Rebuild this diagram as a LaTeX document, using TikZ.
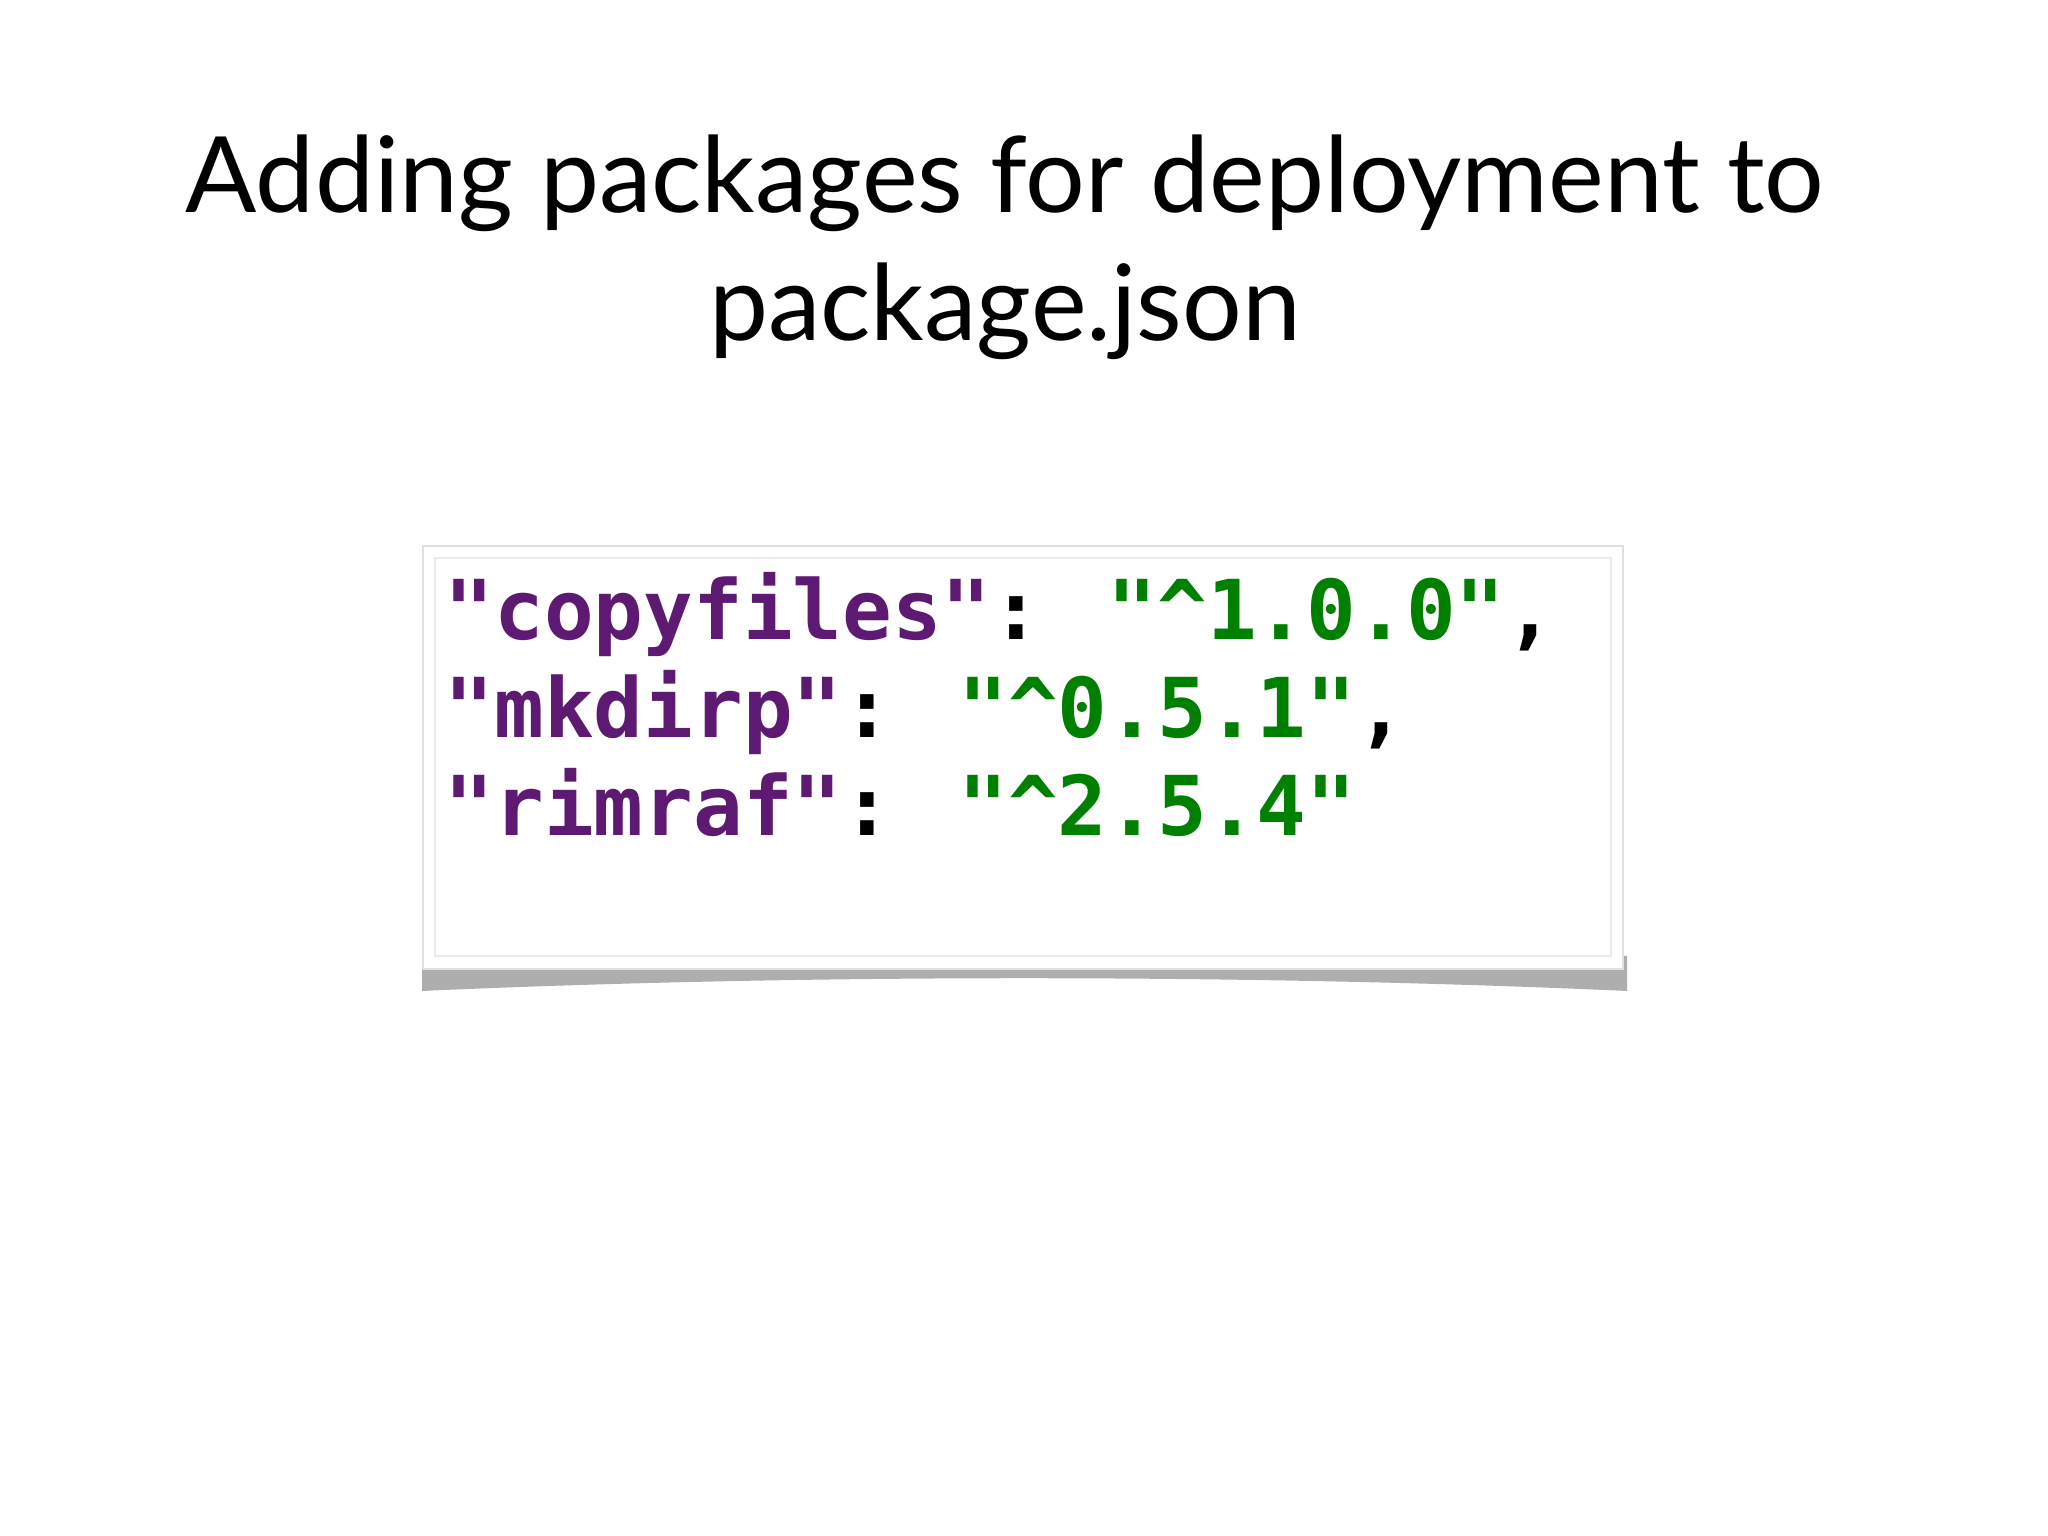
\documentclass[tikz,border=0pt]{standalone}
\usepackage{fontspec}
\setmainfont{Lato}
\newfontfamily\codefont{DejaVu Sans Mono}
\definecolor{kpurple}{HTML}{5E1A72}
\definecolor{kgreen}{HTML}{008000}
\tikzset{codeline/.style={anchor=base west,inner sep=0pt,font=\codefont\bfseries\fontsize{23.5}{28}\selectfont}}
\begin{document}
\begin{tikzpicture}[x=1cm,y=1cm]
\useasboundingbox (0,0) rectangle (20.48,15.36);
\fill[white] (0,0) rectangle (20.48,15.36);
% title
\node[font=\fontsize{30}{36}\selectfont,align=center,inner sep=0pt] (title1) at (10.05,13.53) {Adding packages for deployment to};
\node[font=\fontsize{30}{36}\selectfont,align=center,inner sep=0pt] (title2) at (10.05,12.25) {package.json};
% shadow
\fill[black!45,opacity=0.7] (4.22,5.45) .. controls (8,5.62) and (12.5,5.62) .. (16.27,5.45) -- (16.27,5.8) -- (4.22,5.8) -- cycle;
% box
\node[draw=black!12,fill=white,line width=0.6pt,minimum width=12.0cm,minimum height=4.23cm,inner sep=0pt] (box) at (10.23,7.785) {};
\draw[black!8,line width=0.6pt] (4.35,5.80) rectangle (16.11,9.78);
% code
\node[codeline] (l1) at (4.44,8.96) {\textcolor{kpurple}{"copyfiles"}: \textcolor{kgreen}{"\textasciicircum1.0.0"},};
\node[codeline] (l2) at (4.44,7.98) {\textcolor{kpurple}{"mkdirp"}: \textcolor{kgreen}{"\textasciicircum0.5.1"},};
\node[codeline] (l3) at (4.44,7.00) {\textcolor{kpurple}{"rimraf"}: \textcolor{kgreen}{"\textasciicircum2.5.4"}};
\end{tikzpicture}
\end{document}
